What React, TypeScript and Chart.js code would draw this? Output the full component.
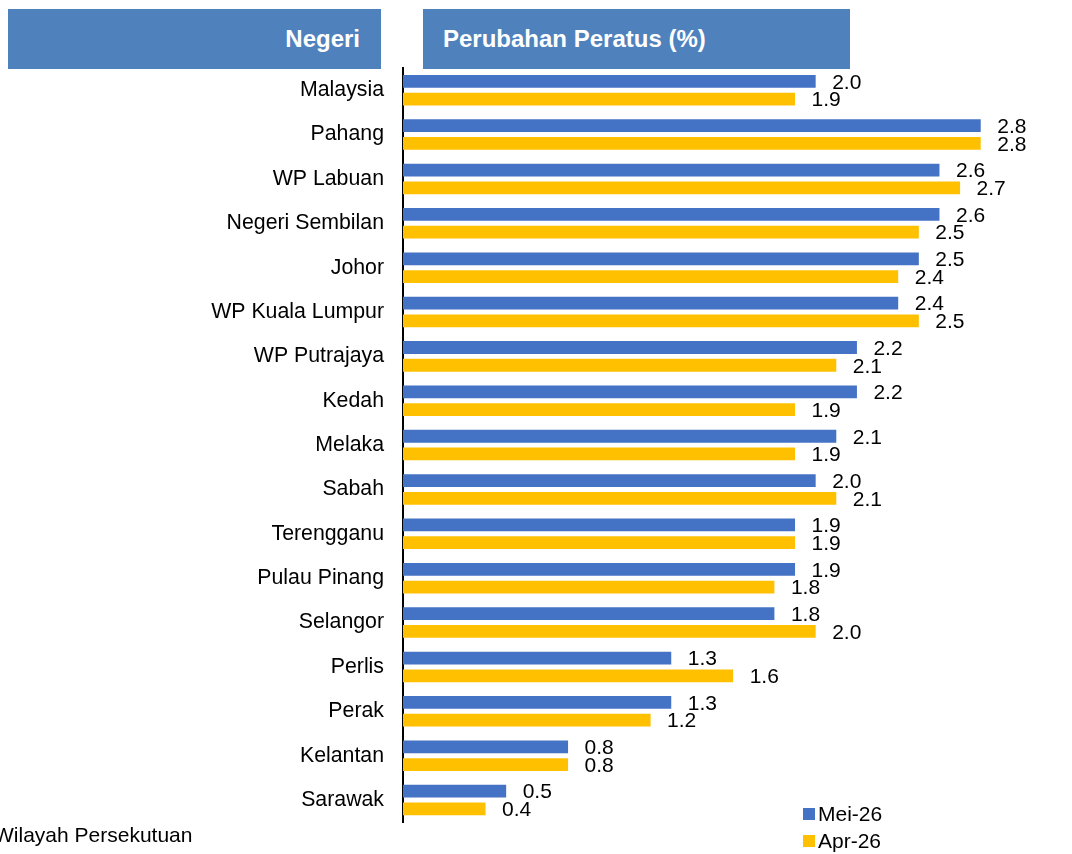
import React, { useEffect, useRef } from "react";
import { Chart, registerables } from "chart.js";

Chart.register(...registerables);

const categories = [
  "Malaysia",
  "Pahang",
  "WP Labuan",
  "Negeri Sembilan",
  "Johor",
  "WP Kuala Lumpur",
  "WP Putrajaya",
  "Kedah",
  "Melaka",
  "Sabah",
  "Terengganu",
  "Pulau Pinang",
  "Selangor",
  "Perlis",
  "Perak",
  "Kelantan",
  "Sarawak",
];
const seriesNames = ["Mei-26", "Apr-26"];
const meiValues = [2.0, 2.8, 2.6, 2.6, 2.5, 2.4, 2.2, 2.2, 2.1, 2.0, 1.9, 1.9, 1.8, 1.3, 1.3, 0.8, 0.5];
const aprValues = [1.9, 2.8, 2.7, 2.5, 2.4, 2.5, 2.1, 1.9, 1.9, 2.1, 1.9, 1.8, 2.0, 1.6, 1.2, 0.8, 0.4];

const BLUE = "#4472C4";
const YELLOW = "#FFC000";
const HEADER = "#4F81BD";
const FONT = "'Liberation Sans', Arial, sans-serif";

const valueLabels = {
  id: "valueLabels",
  afterDatasetsDraw(chart: any) {
    const ctx = chart.ctx;
    ctx.save();
    ctx.font = `21px ${FONT}`;
    ctx.fillStyle = "#000";
    ctx.textAlign = "left";
    ctx.textBaseline = "middle";
    chart.data.datasets.forEach((ds: any, di: number) => {
      const meta = chart.getDatasetMeta(di);
      meta.data.forEach((bar: any, i: number) => {
        const v = ds.data[i];
        ctx.fillText(v.toFixed(1), bar.x + 16.5, bar.y + 1.5);
      });
    });
    ctx.restore();
  },
};

export default function App() {
  const canvasRef = useRef<HTMLCanvasElement>(null);

  useEffect(() => {
    if (!canvasRef.current) return;
    const chart = new Chart(canvasRef.current, {
      type: "bar",
      data: {
        labels: categories,
        datasets: [
          {
            label: seriesNames[0],
            data: meiValues,
            backgroundColor: BLUE,
            categoryPercentage: 0.8,
            barPercentage: 0.72,
          },
          {
            label: seriesNames[1],
            data: aprValues,
            backgroundColor: YELLOW,
            categoryPercentage: 0.8,
            barPercentage: 0.72,
          },
        ],
      },
      options: {
        indexAxis: "y",
        responsive: false,
        animation: false,
        devicePixelRatio: 1,
        layout: { padding: { top: 68, bottom: 27, left: 0, right: 50 } },
        plugins: {
          legend: { display: false },
          tooltip: { enabled: false },
        },
        scales: {
          x: {
            display: false,
            min: 0,
            max: 3.0,
          },
          y: {
            afterFit: (s: any) => {
              s.width = 403;
            },
            grid: { display: false, drawTicks: false },
            border: { display: true, color: "#000", width: 2 },
            ticks: {
              color: "#000",
              padding: 19,
              font: { family: FONT, size: 21.3 },
            },
          },
        },
      },
      plugins: [valueLabels],
    } as any);
    return () => chart.destroy();
  }, []);

  const legendItem = (color: string, text: string, top: number) => (
    <div
      style={{
        position: "absolute",
        left: 803,
        top,
        height: 24,
        display: "flex",
        alignItems: "center",
        fontFamily: FONT,
        fontSize: 21,
        color: "#000",
      }}
    >
      <span style={{ width: 12, height: 12, background: color, display: "inline-block", marginRight: 3 }} />
      <span>{text}</span>
    </div>
  );

  return (
    <div
      style={{
        position: "fixed",
        left: 0,
        top: 0,
        width: 1072,
        height: 854,
        overflow: "hidden",
        background: "#fff",
      }}
    >
      <canvas ref={canvasRef} width={1072} height={854} style={{ position: "absolute", left: 0, top: 0 }} />
      <div
        style={{
          position: "absolute",
          left: 8,
          top: 9,
          width: 373,
          height: 60,
          background: HEADER,
          display: "flex",
          alignItems: "center",
          justifyContent: "flex-end",
          boxSizing: "border-box",
          paddingRight: 21,
          color: "#fff",
          fontFamily: FONT,
          fontWeight: "bold",
          fontSize: 24,
        }}
      >
        Negeri
      </div>
      <div
        style={{
          position: "absolute",
          left: 423,
          top: 9,
          width: 427,
          height: 60,
          background: HEADER,
          display: "flex",
          alignItems: "center",
          boxSizing: "border-box",
          paddingLeft: 20,
          color: "#fff",
          fontFamily: FONT,
          fontWeight: "bold",
          fontSize: 24,
        }}
      >
        Perubahan Peratus (%)
      </div>
      {legendItem(BLUE, seriesNames[0], 802)}
      {legendItem(YELLOW, seriesNames[1], 829)}
      <div
        style={{
          position: "absolute",
          left: -6,
          top: 823,
          fontFamily: FONT,
          fontSize: 21,
          color: "#000",
          whiteSpace: "nowrap",
        }}
      >
        Wilayah Persekutuan
      </div>
    </div>
  );
}
